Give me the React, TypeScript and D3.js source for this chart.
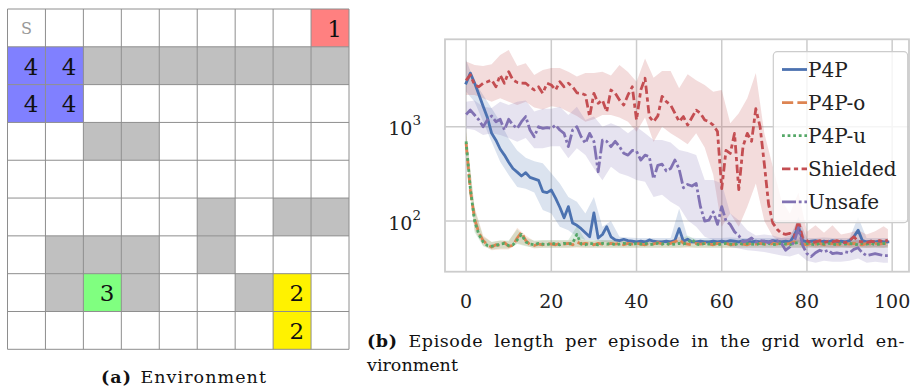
import React, { useEffect, useRef } from 'react';
import * as d3 from 'd3';

// ---- grid world (left panel) ----
const gridIndex = d3.range(9);
// [row, col] of the obstacle cells
const wallCells: [number, number][] = [
  [1, 2], [1, 3], [1, 4], [1, 5], [1, 6], [1, 7], [1, 8],
  [3, 2], [3, 3],
  [5, 5], [5, 7], [5, 8],
  [6, 1], [6, 2], [6, 3], [6, 5],
  [7, 1], [7, 3], [7, 6],
];
const goalCells = [
  { row: 0, col: 8, label: '1' },
  { row: 1, col: 0, label: '4' },
  { row: 1, col: 1, label: '4' },
  { row: 2, col: 0, label: '4' },
  { row: 2, col: 1, label: '4' },
  { row: 7, col: 2, label: '3' },
  { row: 7, col: 7, label: '2' },
  { row: 8, col: 7, label: '2' },
];
const startCell = { row: 0, col: 0, label: 'S' };
const goalColor: Record<string, string> = { '1': '#ff8080', '2': '#fff200', '3': '#80ff80', '4': '#8080ff' };

// ---- episode length chart (right panel) ----
const seriesNames = ['P4P', 'P4P-o', 'P4P-u', 'Shielded', 'Unsafe'];
const episodes = d3.range(100);
const bandEpisodes = [...d3.range(0, 100, 2), 99];

const p4pMean = [
  2900, 3700, 2900, 2200, 1650, 1250, 850, 720, 580, 500,
  420, 360, 330, 300, 325, 290, 280, 270, 205, 200,
  213, 175, 140, 108, 142, 95, 90, 83, 75, 68,
  122, 66, 72, 87, 68, 63, 62, 64, 62, 61,
  60, 61, 60, 63, 61, 60, 60, 61, 60, 62,
  83, 61, 64, 60, 60, 61, 60, 60, 61, 60,
  61, 60, 62, 61, 60, 62, 61, 60, 61, 60,
  61, 60, 62, 61, 60, 61, 60, 70, 87, 62,
  60, 61, 62, 60, 61, 60, 62, 60, 61, 60,
  62, 68, 80, 62, 60, 61, 60, 61, 60, 60,
];
const p4poMean = [
  670, 210, 105, 75, 62, 56, 53, 56, 55, 59,
  54, 55, 66, 76, 62, 56, 55, 57, 56, 58,
  57, 56, 58, 57, 58, 56, 60, 57, 58, 57,
  56, 58, 57, 56, 58, 57, 58, 56, 58, 57,
  58, 57, 56, 58, 57, 59, 57, 56, 58, 60,
  64, 58, 57, 56, 58, 57, 58, 57, 56, 58,
  57, 58, 56, 57, 58, 57, 56, 58, 57, 58,
  57, 56, 58, 57, 59, 57, 58, 60, 58, 57,
  56, 58, 57, 58, 56, 57, 58, 57, 56, 58,
  57, 58, 57, 56, 58, 57, 58, 57, 58, 57,
];
const p4puMean = [
  700, 220, 100, 72, 60, 55, 54, 55, 57, 58,
  55, 56, 63, 72, 60, 57, 56, 58, 57, 56,
  58, 57, 56, 58, 57, 58, 72, 57, 56, 58,
  57, 56, 58, 57, 58, 56, 57, 58, 57, 56,
  58, 57, 58, 56, 57, 58, 57, 58, 56, 57,
  58, 57, 59, 64, 57, 56, 58, 57, 58, 56,
  57, 58, 57, 56, 58, 57, 58, 57, 56, 58,
  57, 58, 56, 57, 58, 57, 56, 58, 59, 57,
  58, 57, 56, 58, 57, 58, 57, 56, 58, 57,
  58, 57, 56, 58, 57, 58, 56, 57, 58, 57,
];
const shieldedMean = [
  3100, 3550, 2770, 2650, 2890, 3000, 3130, 2650, 3530, 2890,
  3830, 3130, 2950, 2900, 2890, 2650, 2450, 2650, 2260, 2890,
  2770, 2450, 3000, 2650, 2890, 2650, 2290, 2260, 2170, 1280,
  2260, 1770, 1920, 1440, 2450, 2260, 1920, 1700, 2170, 2650,
  1180, 2450, 3260, 1280, 1130, 1300, 2100, 1840, 1700, 1390,
  1130, 1280, 1040, 1250, 1500, 1390, 1180, 1130, 1040, 890,
  220, 560, 520, 850, 215, 620, 850, 700, 1550, 1000,
  400, 150, 95, 82, 74, 72, 74, 68, 100, 66,
  62, 58, 60, 62, 59, 61, 60, 62, 60, 59,
  62, 68, 61, 60, 59, 61, 60, 62, 60, 63,
];
const unsafeMean = [
  1350, 1500, 1330, 1180, 1000, 1180, 1300, 1130, 1200, 923,
  1200, 1040, 960, 1130, 1280, 923, 783, 1000, 960, 980,
  960, 1040, 923, 850, 614, 923, 1000, 783, 667, 850,
  700, 333, 722, 700, 614, 700, 614, 522, 500, 560,
  550, 443, 500, 480, 280, 390, 400, 340, 360, 443,
  355, 225, 244, 235, 250, 142, 100, 102, 125, 92,
  142, 100, 92, 77, 70, 60, 62, 66, 60, 62,
  61, 59, 62, 62, 58, 49, 53, 60, 85, 55,
  45, 42, 46, 49, 47, 49, 45, 46, 45, 47,
  46, 50, 52, 46, 43, 44, 45, 44, 43, 43,
];

// confidence bands, sampled at bandEpisodes
const p4pHi = [5100, 3000, 2170, 1570, 1130, 750, 560, 470, 430, 409, 320, 250, 180, 160, 120, 180, 87, 100, 68, 67, 66, 66, 66, 66, 66, 135, 67, 66, 66, 66, 66, 67, 66, 66, 66, 66, 66, 66, 66, 110, 66, 66, 67, 66, 66, 66, 110, 66, 66, 66, 66];
const p4pLo = [2350, 1840, 1130, 690, 425, 307, 230, 220, 200, 131, 120, 87, 80, 68, 63, 63, 60, 60, 59, 58, 57, 57, 57, 57, 57, 58, 57, 57, 57, 57, 57, 57, 57, 57, 57, 57, 57, 57, 57, 58, 57, 57, 57, 57, 57, 57, 58, 57, 57, 57, 57];
const p4poHi = [900, 140, 70, 60, 62, 61, 85, 70, 61, 62, 62, 62, 62, 65, 62, 61, 62, 62, 62, 62, 61, 62, 62, 62, 62, 68, 62, 62, 62, 62, 62, 62, 62, 62, 62, 62, 62, 62, 62, 64, 62, 62, 62, 62, 62, 62, 62, 62, 62, 62, 62];
const p4poLo = [520, 80, 55, 49, 50, 50, 58, 55, 51, 52, 52, 52, 52, 52, 52, 52, 52, 52, 52, 52, 52, 52, 52, 52, 52, 52, 52, 52, 52, 52, 52, 52, 52, 52, 52, 52, 52, 52, 52, 52, 52, 52, 52, 52, 52, 52, 52, 52, 52, 52, 52];
const p4puHi = [880, 135, 68, 60, 62, 62, 82, 66, 62, 63, 63, 63, 63, 88, 63, 63, 63, 63, 63, 63, 63, 63, 63, 63, 63, 63, 70, 63, 63, 63, 63, 63, 63, 63, 63, 63, 63, 63, 63, 63, 63, 63, 63, 63, 63, 63, 63, 63, 63, 63, 63];
const p4puLo = [540, 76, 54, 50, 51, 51, 57, 54, 52, 52, 52, 52, 52, 53, 52, 52, 52, 52, 52, 52, 52, 52, 52, 52, 52, 52, 53, 52, 52, 52, 52, 52, 52, 52, 52, 52, 52, 52, 52, 52, 52, 52, 52, 52, 52, 52, 52, 52, 52, 52, 52];
const shieldedHi = [4900, 4500, 4400, 4600, 5760, 6500, 4400, 4700, 3540, 4000, 4200, 4200, 3830, 3400, 3700, 3700, 3830, 3500, 4500, 3800, 3000, 5300, 3300, 3900, 3900, 2550, 3600, 3100, 2770, 2350, 2450, 1090, 1390, 2000, 3700, 850, 377, 167, 120, 200, 77, 90, 75, 90, 72, 75, 80, 72, 78, 88, 82];
const shieldedLo = [2170, 2170, 2000, 1840, 2000, 1840, 1700, 1840, 1600, 1520, 1650, 1600, 1440, 1300, 1130, 1200, 1330, 1330, 1250, 1130, 885, 1250, 690, 1000, 850, 750, 650, 850, 600, 310, 87, 120, 87, 142, 250, 100, 68, 60, 58, 60, 54, 52, 53, 52, 53, 52, 53, 52, 53, 52, 54];
const unsafeHi = [1840, 1900, 1630, 1580, 1840, 1700, 1840, 1900, 1450, 1550, 1550, 1630, 1330, 1630, 1180, 1280, 1000, 1090, 1000, 850, 1000, 850, 722, 722, 680, 566, 540, 500, 272, 272, 250, 120, 102, 80, 70, 72, 70, 66, 70, 95, 60, 60, 58, 60, 58, 60, 64, 56, 57, 56, 56];
const unsafeLo = [960, 920, 816, 850, 816, 760, 693, 760, 590, 590, 620, 620, 462, 590, 500, 360, 270, 377, 320, 300, 272, 260, 180, 190, 160, 142, 102, 87, 68, 63, 63, 53, 51, 49, 48, 47, 45, 43, 42, 45, 38, 36, 38, 37, 37, 38, 40, 36, 37, 36, 36];

const xTicks = [0, 20, 40, 60, 80, 100];
const yTicks = [100, 1000];

const palette = ['#4c72b0', '#dd8452', '#55a868', '#c44e52', '#8172b3'];
const LW = 2.8;
const dashes = ['', `${4 * LW},${1.5 * LW}`, `${LW},${LW}`, `${3 * LW},${1.25 * LW},${1.5 * LW},${1.25 * LW}`, `${5 * LW},${LW},${LW},${LW}`];

const means = [p4pMean, p4poMean, p4puMean, shieldedMean, unsafeMean];
const bands = [[p4pLo, p4pHi], [p4poLo, p4poHi], [p4puLo, p4puHi], [shieldedLo, shieldedHi], [unsafeLo, unsafeHi]];

const SERIF = '"DejaVu Serif", "Liberation Serif", serif';

// stretch a text line to a fixed width: part letter spacing, part word spacing
const justify = (el: SVGTextElement | null, width: number, words: number, wordShare: number) => {
  if (!el) return;
  const chars = (el.textContent || '').length;
  const extra = width - el.getComputedTextLength();
  if (extra <= 0) return;
  el.setAttribute('letter-spacing', String((extra * (1 - wordShare)) / chars));
  el.setAttribute('word-spacing', String((extra * wordShare) / words));
};

const App: React.FC = () => {
  const capRef = useRef<SVGTextElement>(null);
  const capARef = useRef<SVGTextElement>(null);

  useEffect(() => {
    justify(capRef.current, 538, 9, 0.6);
    justify(capARef.current, 166, 1, 0.1);
  }, []);

  // grid
  const gx = d3.scaleBand<number>().domain(gridIndex).range([7.5, 349]);
  const gy = d3.scaleBand<number>().domain(gridIndex).range([9, 349.3]);
  const cw = gx.bandwidth();
  const ch = gy.bandwidth();

  // chart
  const left = 445, right = 909, top = 39.3, bottom = 271.7;
  const x = d3.scaleLinear().domain([-4.95, 103.95]).range([left, right]);
  const y = d3.scaleLog().domain([29, 8450]).range([bottom, top]);

  const line = d3.line<number>().x((_, i) => x(episodes[i])).y(d => y(d));

  const legendX = 773.3, legendY = 51.7;

  return (
    <svg width={915} height={387} style={{ position: 'absolute', left: 0, top: 0, background: '#fff' }}>
      {/* ---------- (a) environment ---------- */}
      <g>
        {wallCells.map(([r, c]) => (
          <rect key={`w${r}-${c}`} x={gx(c)} y={gy(r)} width={cw} height={ch} fill="#c0c0c0" />
        ))}
        {goalCells.map(g => (
          <rect key={`g${g.row}-${g.col}`} x={gx(g.col)} y={gy(g.row)} width={cw} height={ch} fill={goalColor[g.label]} />
        ))}
        {d3.range(10).map(i => (
          <line key={`v${i}`} x1={7.5 + i * cw} x2={7.5 + i * cw} y1={9} y2={349.3} stroke="#8e8e8e" strokeWidth={1} />
        ))}
        {d3.range(10).map(i => (
          <line key={`h${i}`} x1={7.5} x2={349} y1={9 + i * ch} y2={9 + i * ch} stroke="#8e8e8e" strokeWidth={1} />
        ))}
        {goalCells.map(g => (
          <text key={`t${g.row}-${g.col}`} x={(gx(g.col) as number) + cw - 7} y={(gy(g.row) as number) + ch - 10}
            textAnchor="end" fontFamily={SERIF} fontSize={23} fill="#111">{g.label}</text>
        ))}
        <text x={(gx(startCell.col) as number) + cw / 2} y={(gy(startCell.row) as number) + ch - 12.5}
          textAnchor="middle" fontFamily={SERIF} fontSize={16} fill="#999">{startCell.label}</text>
        <text ref={capARef} x={101} y={383} fontFamily={SERIF} fontSize={17.5} fill="#111">
          <tspan fontWeight="bold">(a)</tspan> Environment
        </text>
      </g>

      {/* ---------- (b) episode length ---------- */}
      <g>
        {xTicks.map(t => (
          <line key={`gx${t}`} x1={x(t)} x2={x(t)} y1={top} y2={bottom} stroke="#cccccc" strokeWidth={1.5} />
        ))}
        {yTicks.map(t => (
          <line key={`gy${t}`} x1={left} x2={right} y1={y(t)} y2={y(t)} stroke="#cccccc" strokeWidth={1.5} />
        ))}

        {bands.map(([lo, hi], k) => {
          const a = d3.area<number>()
            .x((_, i) => x(bandEpisodes[i]))
            .y0(d => y(d))
            .y1((_, i) => y(hi[i]));
          return <path key={`b${k}`} d={a(lo) || ''} fill={palette[k]} fillOpacity={0.2} stroke="none" />;
        })}

        {means.map((m, k) => (
          <path key={`l${k}`} d={line(m) || ''} fill="none" stroke={palette[k]} strokeWidth={LW}
            strokeDasharray={dashes[k] || undefined} strokeLinejoin="round" strokeLinecap={k === 0 ? 'square' : 'butt'} />
        ))}

        <rect x={left} y={top} width={right - left} height={bottom - top} fill="none" stroke="#cccccc" strokeWidth={1.8} />

        {xTicks.map(t => (
          <text key={`xt${t}`} x={x(t)} y={308.3} textAnchor="middle" fontFamily={SERIF} fontSize={19} fill="#222">{t}</text>
        ))}
        {yTicks.map(t => (
          <text key={`yt${t}`} x={421} y={y(t) + 8.5} textAnchor="end" fontFamily={SERIF} fontSize={19} fill="#222">
            10<tspan dy={-10} fontSize={13.5}>{Math.round(Math.log10(t))}</tspan>
          </text>
        ))}

        {/* legend */}
        <rect x={legendX} y={legendY} width={134.4} height={171} rx={4} fill="#fff" fillOpacity={0.8} stroke="#cccccc" strokeWidth={1.2} />
        {seriesNames.map((name, k) => {
          const cy = legendY + 17.8 + k * 33.1;
          return (
            <g key={name}>
              <line x1={782} x2={807} y1={cy} y2={cy} stroke={palette[k]} strokeWidth={LW}
                strokeDasharray={dashes[k] || undefined} />
              <text x={808} y={cy + 7.3} fontFamily={SERIF} fontSize={20} fill="#222">{name}</text>
            </g>
          );
        })}

        <text ref={capRef} x={367} y={346.7} fontFamily={SERIF} fontSize={17.5} fill="#111">
          <tspan fontWeight="bold">(b)</tspan> Episode length per episode in the grid world en-
        </text>
        <text x={367} y={370.7} fontFamily={SERIF} fontSize={17.5} fill="#111">vironment</text>
      </g>
    </svg>
  );
};

export default App;
